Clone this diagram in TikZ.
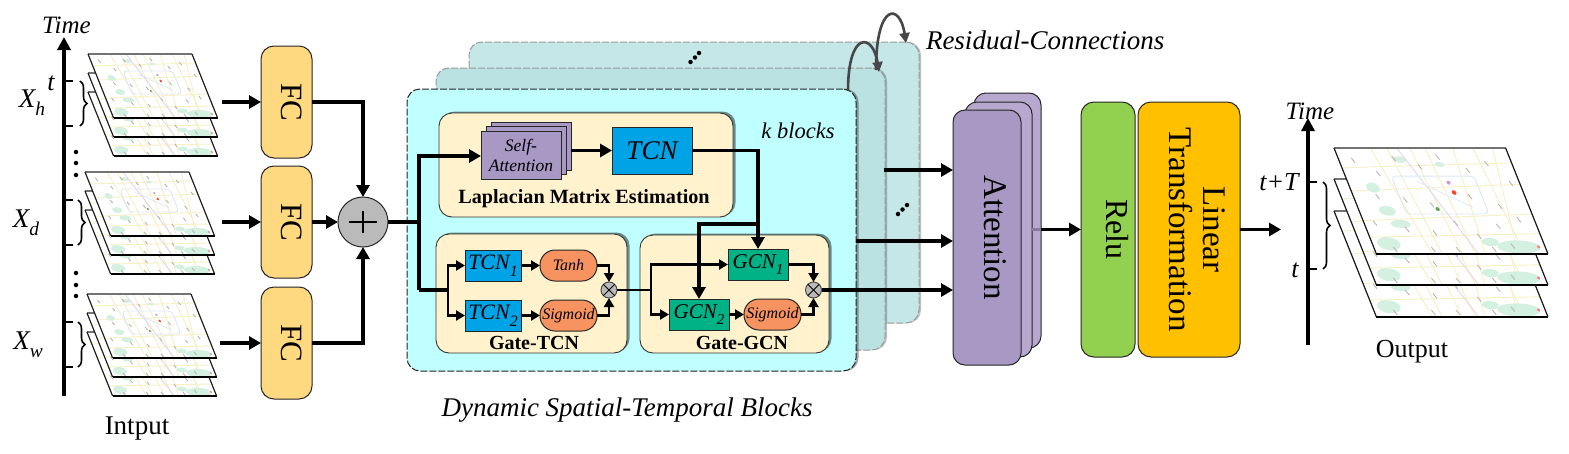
\documentclass[tikz,border=0pt]{standalone}
\usepackage{fontspec}
\setmainfont{Liberation Serif}
\usetikzlibrary{arrows.meta,shadows,decorations.pathreplacing}
\newcommand\fsz[1]{\fontsize{#1}{1.2\dimexpr #1pt\relax}\selectfont}
\newcommand\lowsb[1]{\raisebox{-.3em}{\scalebox{.72}{#1}}}
\newcommand\vtext[2]{\hspace*{#1pt}\rotatebox{-90}{#2}}
\definecolor{fcfill}{HTML}{FFD97F}
\definecolor{tcnfill}{HTML}{00A3E6}
\definecolor{gcnfill}{HTML}{00B285}
\definecolor{orfill}{HTML}{F69360}
\definecolor{purfill}{HTML}{A898C4}
\definecolor{purback}{HTML}{B6A8CF}
\definecolor{panelfill}{HTML}{FFF2CC}
\definecolor{frontfill}{HTML}{C0FFFF}
\definecolor{midfill}{HTML}{BBE2E2}
\definecolor{backfill}{HTML}{C6E7E7}
\definecolor{mapgreen}{HTML}{D3F0E0}
\definecolor{mapyellow}{HTML}{F8EFC4}
\definecolor{mapblue}{HTML}{D8EAF6}
\definecolor{maptick}{HTML}{BDB6AE}
\tikzset{
  x=1pt,y=-1pt,
  flow/.style={line width=3.2pt,-{Triangle[length=12pt,width=13pt]}},
  flowthin/.style={line width=2.8pt,-{Triangle[length=9pt,width=10pt]}},
  wire/.style={line width=3.2pt},
  wirethin/.style={line width=2.8pt},
  residual/.style={line width=2.6pt,draw=black!72,-{Triangle[length=10pt,width=10pt]}},
  axisline/.style={line width=3.2pt},
  axisarrow/.style={line width=3.2pt,-{Triangle[length=13pt,width=13pt]}},
  bracket/.style={line width=1.6pt,decorate,decoration={brace,amplitude=7pt,aspect=.5}},
  card/.style={draw=black!85,line width=1pt,inner sep=0pt,outer sep=0pt,rounded corners=13pt},
  fcbox/.style={card,fill=fcfill,minimum width=51pt,minimum height=112pt,font=\fsz{31}},
  block/.style={dash pattern=on 7pt off 2pt,line width=1pt,inner sep=0pt,outer sep=0pt,rounded corners=13pt},
  panel/.style={draw=black!80,line width=.9pt,fill=panelfill,inner sep=0pt,outer sep=0pt,rounded corners=13pt,
     drop shadow={shadow xshift=2.5pt,shadow yshift=1.5pt,fill=black,opacity=.45}},
  sq/.style={draw=black!85,line width=1pt,inner sep=0pt,outer sep=0pt,font=\itshape},
  tcnbox/.style={sq,fill=tcnfill,minimum width=56pt,minimum height=31pt,font=\itshape\fsz{22}},
  gcnbox/.style={sq,fill=gcnfill,minimum width=60pt,minimum height=31pt,font=\itshape\fsz{21}},
  pill/.style={draw=black!85,line width=1pt,fill=orfill,inner sep=0pt,outer sep=0pt,rounded corners=15pt,
     minimum width=57pt,minimum height=31pt,font=\itshape\fsz{16}},
  attnbox/.style={sq,fill=purfill,minimum width=80pt,minimum height=48pt},
  mult/.style={circle,draw=black!70,line width=1pt,fill=black!27,minimum size=16pt,inner sep=0pt,outer sep=0pt},
  plain/.style={inner sep=0pt,outer sep=0pt},
  dotsmall/.style={circle,fill=black,minimum size=4.5pt,inner sep=0pt},
}
% map sheet: top-left corner x,y and scale
\newcommand\mapsheet[3]{%
 \begin{scope}[shift={(#1,#2)},xslant=-.4,scale=#3]
  \fill[white] (0,0) rectangle (104,64);
  \begin{scope}
   \clip (0,0) rectangle (104,64);
   \foreach \a/\b in {22/34,32/40,46/52,55/60,72/66,84/90,96/86}
     \draw[mapyellow,line width=.9pt] (\a,0) -- (\b,64);
   \foreach \a/\b in {12/9,26/22,44/40,54/52}
     \draw[mapyellow,line width=.9pt] (0,\a) -- (104,\b);
   \fill[mapgreen] (88,60) ellipse (13 and 4);
   \fill[mapgreen] (72,57) ellipse (5 and 2.5);
   \fill[mapgreen] (17,38) ellipse (5 and 3);
   \fill[mapgreen] (22,46) ellipse (6 and 2.5);
   \fill[mapgreen] (14,24) ellipse (4 and 3);
   \fill[mapgreen] (10,58) ellipse (7 and 4);
   \fill[mapgreen] (37,7) ellipse (4 and 2);
   \fill[mapgreen] (60,10) ellipse (3 and 1.5);
   \draw[violet!18,line width=.8pt] (38,0) -- (62,64);
   \draw[mapblue,line width=.9pt,rounded corners=4pt] (28,17) rectangle (78,40);
   \draw[mapblue,line width=.7pt] (42,20) -- (70,36);
   \foreach \p/\q in {8/6,20/14,33/5,47/10,60/4,75/12,88/8,98/20,14/28,30/30,45/33,70/28,86/34,
                      6/44,24/48,40/50,55/44,66/52,80/46,94/42,12/60,35/60,50/60,72/60,84/58}
     \draw[maptick,line width=.9pt] (\p,\q) -- ++(1.2,3);
   \fill[red!75!orange!85] (62,27) circle (1.4);
   \fill[green!45!black!65] (48,37) circle (1.2);
   \fill[violet!40] (61,21) circle (1.2);
   \fill[red!55] (100,60) circle (1);
  \end{scope}
  \draw[black!55,line width=1.2pt] (0,0) -- (104,0);
  \draw[black!90,line width=1.2pt] (104,0) -- (104,64);
  \draw[black!90,line width=1.2pt] (0,0) -- (0,64);
  \draw[black,line width=1.9pt] (0,64) -- (104,64);
 \end{scope}}
\begin{document}
\begin{tikzpicture}
\useasboundingbox (0,0) rectangle (1569,453);
\fill[white] (0,0) rectangle (1569,453);

%% Input sheets
\foreach \y in {92,73,54} {\mapsheet{88}{\y}{1}}
\foreach \y in {210,191,172} {\mapsheet{85}{\y}{1}}
\foreach \y in {332,313,294} {\mapsheet{87}{\y}{1}}

%% left axis
\coordinate (axB) at (64,396);
\coordinate (axT) at (64,37);
\draw[axisarrow] (axB) -- (axT);
\foreach \n/\y in {a/81,b/126,c/200,d/245,e/322,f/367} {
  \coordinate (tk\n) at (64,\y);
  \coordinate (te\n) at (73,\y);
  \draw[line width=2.4pt] (tk\n) -- (te\n);
}
\draw[bracket] (80,81) -- (80,126);
\draw[bracket] (78,200) -- (78,245);
\draw[bracket] (78,322) -- (78,367);
\foreach \i/\y in {1/152,2/163,3/175,4/273,5/285,6/296} {\node[dotsmall] (ld\i) at (76,\y) {};}
\node[plain,font=\itshape\fsz{25}] (timeL) at (66.5,25) {Time};
\node[plain,font=\itshape\fsz{26}] (tL) at (51,83) {t};
\node[plain,font=\itshape\fsz{27}] (xh) at (32,103) {X\lowsb{h}};
\node[plain,font=\itshape\fsz{27}] (xd) at (26,223) {X\lowsb{d}};
\node[plain,font=\itshape\fsz{27}] (xw) at (28,345) {X\lowsb{w}};
\node[plain,font=\fsz{27}] (intput) at (137,429) {Intput};

%% FC
\node[fcbox] (fc1) at (286.5,102) {\vtext{10}{FC}};
\node[fcbox] (fc2) at (286.5,222) {\vtext{10}{FC}};
\node[fcbox] (fc3) at (286.5,343) {\vtext{10}{FC}};
\coordinate (in1) at (222,102);
\coordinate (in2) at (222,222);
\coordinate (in3) at (220,343);
\draw[flow] (in1) -- (fc1.west);
\draw[flow] (in2) -- (fc2.west);
\draw[flow] (in3) -- (fc3.west);

%% Adder
\node[circle,draw=black!85,line width=1pt,fill=black!27,minimum size=50pt,inner sep=0pt,outer sep=0pt] (plus) at (363,222) {};
\draw[line width=1.3pt] ([xshift=-14pt]plus.center) -- ([xshift=14pt]plus.center);
\draw[line width=1.3pt] ([yshift=-11pt]plus.center) -- ([yshift=11pt]plus.center);
\draw[flow] (fc1.east) -| (plus.north);
\draw[flow] (fc2.east) -- (plus.west);
\draw[flow] (fc3.east) -| (plus.south);

%% Blocks
\node[block,draw=black!40,fill=backfill,minimum width=450pt,minimum height=281pt,
      drop shadow={shadow xshift=2pt,shadow yshift=0pt,fill=black,opacity=.25}] (blk3) at (694,182.5) {};
\node[block,draw=black!40,fill=midfill,minimum width=449pt,minimum height=282pt,
      drop shadow={shadow xshift=2pt,shadow yshift=0pt,fill=black,opacity=.25}] (blk2) at (660.5,209) {};
\node[block,draw=black!85,fill=frontfill,minimum width=449pt,minimum height=282pt,
      drop shadow={shadow xshift=2.5pt,shadow yshift=0pt,fill=black,opacity=.35}] (blk1) at (631.5,230) {};
\foreach \i/\x/\y in {1/690.5/62,2/695/57.5,3/699/53,4/898/214,5/902.5/209.5,6/907/205} {\node[dotsmall] (bd\i) at (\x,\y) {};}

\node[plain,font=\itshape\fsz{22.5}] (kb) at (798,131) {k blocks};
\node[plain,font=\itshape\fsz{27}] (dyn) at (627,410) {Dynamic Spatial-Temporal Blocks};
\node[plain,font=\itshape\fsz{27},anchor=west] (rescon) at (926,40) {Residual-Connections};

%% residual arcs
\coordinate (ra1) at (848,91);
\coordinate (ra2) at (879,72);
\coordinate (rb1) at (876,70);
\coordinate (rb2) at (906,43);
\draw[residual] (ra1) .. controls (848,30) and (873,33) .. (ra2);
\draw[residual] (rb1) .. controls (876,2) and (900,3) .. (rb2);

%% Panels
\node[panel,minimum width=294pt,minimum height=104pt] (lap) at (586,165) {};
\node[panel,minimum width=191pt,minimum height=119pt] (gtcn) at (531.5,293.5) {};
\node[panel,minimum width=189pt,minimum height=118pt] (ggcn) at (734.5,294) {};
\node[plain,font=\bfseries\fsz{20.2}] (laplbl) at (584,199) {Laplacian Matrix Estimation};
\node[plain,font=\bfseries\fsz{20}] (gtlbl) at (534,343) {Gate-TCN};
\node[plain,font=\bfseries\fsz{20}] (gglbl) at (742,343) {Gate-GCN};

%% Laplacian contents
\node[attnbox] (sa3) at (531,146) {};
\node[attnbox] (sa2) at (526,150.5) {};
\node[attnbox,font=\itshape\fsz{17.5},align=center] (sa) at (521,155) {Self-\\[-1pt]Attention};
\node[sq,fill=tcnfill,minimum width=80pt,minimum height=47pt,font=\itshape\fsz{27}] (tcn) at (652,150.5) {TCN};
\draw[flow] (sa3.east |- tcn.west) -- (tcn.west);

%% Gate-TCN contents
\node[tcnbox] (t1) at (493,265.5) {TCN\lowsb{1}};
\node[tcnbox] (t2) at (493,315.5) {TCN\lowsb{2}};
\node[pill] (tanh) at (568.5,265.5) {Tanh};
\node[pill] (sig1) at (568.5,315.5) {Sigmoid};
\node[mult] (m1) at (609,290) {};
\draw[line width=.8pt] (m1.45) -- (m1.225);
\draw[line width=.8pt] (m1.135) -- (m1.315);

%% Gate-GCN contents
\node[gcnbox] (g1) at (758,264.5) {GCN\lowsb{1}};
\node[gcnbox] (g2) at (699,314.5) {GCN\lowsb{2}};
\node[pill] (sig2) at (772.5,314.5) {Sigmoid};
\node[mult] (m2) at (813.5,290) {};
\draw[line width=.8pt] (m2.45) -- (m2.225);
\draw[line width=.8pt] (m2.135) -- (m2.315);

%% Junctions and inner connectors
\coordinate (trunk) at (419,222);
\coordinate (trunkTop) at (419,156);
\coordinate (trunkBot) at (419,290);
\coordinate (split1) at (448,290);
\coordinate (split2) at (651,290);
\coordinate (tap) at (758,224);
\draw[wire] (plus.east) -- (trunk);
\draw[flow] (trunkBot) -- (trunkTop) -- (sa.west |- trunkTop);
\draw[wire] (trunkBot) -- (split1);
\draw[flowthin] (split1) |- (t1.west);
\draw[flowthin] (split1) |- (t2.west);
\draw[flowthin] (t1.east) -- (tanh.west);
\draw[flowthin] (t2.east) -- (sig1.west);
\draw[flowthin] (tanh.east) -| (m1.north);
\draw[flowthin] (sig1.east) -| (m1.south);
\draw[wirethin] (m1.east) -- (split2);
\draw[flowthin] (split2) |- (g1.west);
\draw[flowthin] (split2) |- (g2.west);
\draw[flowthin] (g2.east) -- (sig2.west);
\draw[flowthin] (g1.east) -| (m2.north);
\draw[flowthin] (sig2.east) -| (m2.south);
\draw[flow] (tcn.east) -| (g1.north);
\draw[flow] (tap) -| (g2.north);

%% Attention
\node[card,fill=purback,minimum width=67pt,minimum height=255pt,rounded corners=12pt] (at3) at (1007.5,220.5) {};
\node[card,fill=purback,minimum width=67pt,minimum height=255pt,rounded corners=12pt] (at2) at (998.5,229.5) {};
\node[card,fill=purfill,minimum width=68pt,minimum height=255pt,rounded corners=12pt,font=\fsz{33}] (at1) at (987,237.5) {\vtext{16}{Attention}};
\coordinate (o3) at (884,170);
\coordinate (o2) at (856,241);
\draw[flow] (o3) -- (o3 -| at1.west);
\draw[flow] (o2) -- (o2 -| at1.west);
\draw[flow] (m2.east) -- (m2.east -| at1.west);

%% Relu, Linear
\node[card,fill={rgb,255:red,146;green,208;blue,80},minimum width=54pt,minimum height=255pt,font=\fsz{32}] (relu) at (1108,229.5) {\vtext{18}{Relu}};
\node[card,fill={rgb,255:red,255;green,192;blue,0},minimum width=102pt,minimum height=255pt,font=\fsz{33}] (lin) at (1189,229.5) {\vtext{11}{\begin{tabular}{@{}c@{}}Linear\\[-5pt]Transformation\end{tabular}}};
\draw[line width=2.6pt,purfill!80!black] (at2.east |- relu.west) -- (at3.east |- relu.west);
\draw[flow] (at3.east |- relu.west) -- (relu.west);
\coordinate (outT) at (1281,229.5);
\draw[flow] (lin.east) -- (outT);

%% Right axis
\mapsheet{1334}{211}{1.65}
\mapsheet{1334}{179}{1.65}
\mapsheet{1334}{148}{1.65}
\coordinate (rxB) at (1308,345);
\coordinate (rxT) at (1308,118);
\draw[axisarrow] (rxB) -- (rxT);
\coordinate (rk1) at (1308,182);
\coordinate (rk2) at (1308,269);
\coordinate (re1) at (1317,182);
\coordinate (re2) at (1317,269);
\draw[line width=2.4pt] (rk1) -- (re1);
\draw[line width=2.4pt] (rk2) -- (re2);
\draw[bracket] (1323,182) -- (1323,269);
\node[plain,font=\itshape\fsz{25}] (timeR) at (1310,111) {Time};
\node[plain,font=\itshape\fsz{26}] (ttT) at (1279,182) {t+T};
\node[plain,font=\itshape\fsz{26}] (tR) at (1295,270) {t};
\node[plain,font=\fsz{26}] (outp) at (1412,352) {Output};
\end{tikzpicture}
\end{document}
